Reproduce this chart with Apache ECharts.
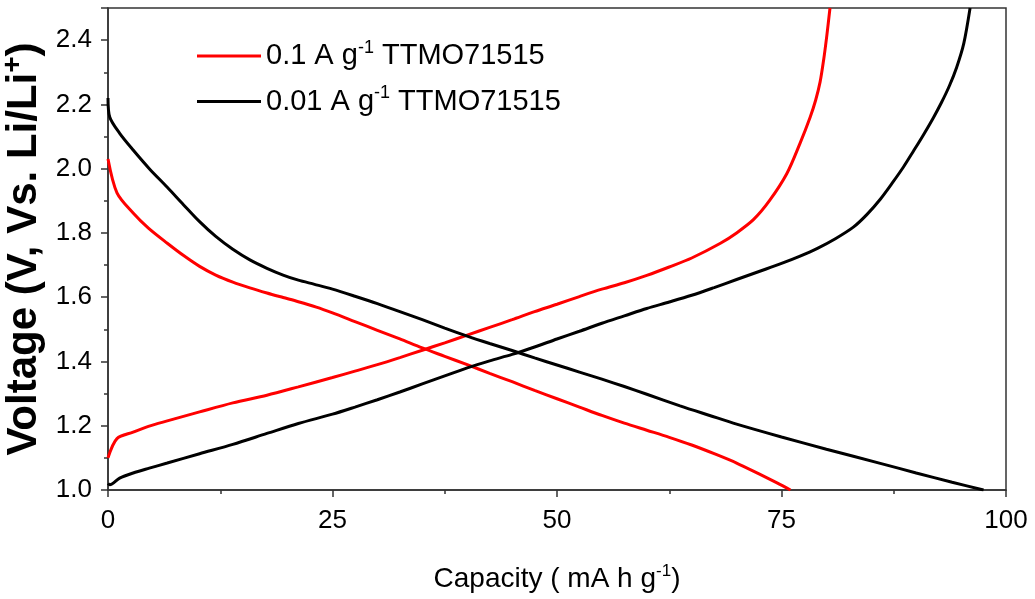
<!DOCTYPE html>
<html><head><meta charset="utf-8">
<script src="https://cdn.jsdelivr.net/npm/echarts@6/dist/echarts.min.js"></script>
<style>html,body{margin:0;padding:0;background:#fff}#c{width:1035px;height:599px}</style>
</head><body><div id="c"></div>
<script>
// Series names (legend)
const seriesNames = ['0.1 A g-1 TTMO71515', '0.01 A g-1 TTMO71515'];
// Red (0.1 A g-1) discharge: [capacity, voltage]
const redDischarge = [[0,2.03],[1,1.925],[2.8,1.862],[4.5,1.815],[6.6,1.768],[8.5,1.728],[10.2,1.696],[12,1.669],[13.9,1.647],[15.8,1.629],[17.7,1.613],[19.5,1.599],[21.2,1.586],[23.2,1.569],[25,1.551],[27.5,1.524],[30,1.497],[32.5,1.47],[35,1.442],[37.5,1.416],[40,1.39],[42.5,1.363],[45,1.337],[47.5,1.31],[50,1.284],[52.5,1.258],[55,1.232],[57.5,1.208],[60,1.186],[62.5,1.164],[65,1.14],[67.5,1.113],[70,1.084],[72.5,1.05],[74.5,1.022],[76,1.0]];
// Red (0.1 A g-1) charge
const redCharge = [[0,1.10],[1,1.16],[2.8,1.18],[4.5,1.198],[6.6,1.215],[10.2,1.243],[13.9,1.271],[17.7,1.295],[21.2,1.321],[25,1.35],[27.5,1.37],[30,1.39],[32.5,1.412],[35,1.435],[37.5,1.458],[40,1.482],[42.5,1.506],[45,1.53],[47.5,1.555],[50,1.578],[52.5,1.602],[55,1.625],[57.5,1.645],[60,1.668],[62.5,1.694],[65,1.722],[68.15,1.767],[70,1.80],[71.9,1.842],[73.7,1.902],[75.6,1.985],[77.05,2.078],[78.2,2.161],[78.8,2.213],[79.3,2.27],[79.7,2.34],[80.05,2.415],[80.4,2.5]];
// Black (0.01 A g-1) discharge
const blackDischarge = [[0,2.22],[0.2,2.16],[1.3,2.11],[2.8,2.058],[4.6,2.0],[6.6,1.942],[8.4,1.888],[10.2,1.835],[12,1.789],[13.9,1.749],[15.8,1.716],[17.7,1.69],[19.5,1.669],[21.2,1.653],[23,1.64],[25,1.625],[27.5,1.603],[30,1.58],[32.5,1.555],[35,1.53],[37.5,1.504],[40,1.479],[42.5,1.456],[45,1.434],[47.5,1.411],[50,1.389],[52.5,1.367],[55,1.345],[57.5,1.322],[60,1.298],[63.7,1.262],[67,1.232],[70,1.205],[75,1.165],[80,1.127],[86,1.083],[90,1.053],[94,1.024],[97.5,1.0]];
// Black (0.01 A g-1) charge
const blackCharge = [[0,1.02],[0.2,1.016],[1.3,1.037],[2.8,1.053],[4.6,1.068],[6.6,1.084],[10.2,1.113],[13.9,1.142],[17.7,1.176],[21.2,1.207],[25,1.236],[27.5,1.258],[30,1.281],[32.5,1.305],[35,1.33],[37.5,1.355],[40,1.38],[42.5,1.402],[45,1.422],[47.5,1.445],[50,1.47],[52.5,1.494],[55,1.519],[57.5,1.542],[60,1.565],[62.5,1.585],[65,1.606],[67.5,1.63],[70,1.655],[72.5,1.68],[75,1.705],[77,1.727],[79,1.752],[81,1.782],[83,1.818],[84.5,1.857],[86,1.905],[87.4,1.958],[88.6,2.006],[89.7,2.055],[90.8,2.105],[91.9,2.158],[92.8,2.205],[93.7,2.258],[94.5,2.315],[95.3,2.39],[96,2.5]];

const chart = echarts.init(document.getElementById('c'));
const font = 'Liberation Sans, Arial, sans-serif';
function legendFmt(name){
  const parts = name.split(' g-1 ');
  return parts[0] + ' g{sup|-1} ' + parts[1];
}
const lineBase = {type:'line', showSymbol:false, symbol:'none', smooth:0.3, animation:false};
chart.setOption({
  animation:false,
  grid:{left:108, right:29, top:8, bottom:109, containLabel:false, outerBoundsMode:'none',
    show:true, borderColor:'#333', borderWidth:1.5},
  legend:{
    orient:'vertical', left:192, top:34, itemGap:14, itemWidth:64, itemHeight:3,
    icon:'rect',
    data: seriesNames,
    formatter: legendFmt,
    textStyle:{fontFamily:font, fontSize:29, color:'#000',
      rich:{sup:{fontFamily:font, fontSize:18, color:'#000', padding:[0,0,16,0]}}}
  },
  xAxis:{
    type:'value', min:0, max:100, interval:25,
    name:'Capacity ( mA h g{sup|-1})', nameLocation:'middle', nameGap:73,
    nameTextStyle:{fontFamily:font, fontSize:28, color:'#000',
      rich:{sup:{fontFamily:font, fontSize:17, color:'#000', padding:[0,0,16,0]}}},
    axisLine:{lineStyle:{color:'#333', width:1.5}},
    axisTick:{show:true, inside:false, length:7, lineStyle:{color:'#333', width:1.5}},
    minorTick:{show:true, splitNumber:2, length:4, lineStyle:{color:'#333', width:1.5}},
    axisLabel:{fontFamily:font, fontSize:26, color:'#000', margin:18},
    splitLine:{show:false}
  },
  yAxis:{
    type:'value', min:1.0, max:2.5, interval:0.2,
    name:'Voltage (V, Vs. Li/Li{sup|+})', nameLocation:'middle', nameGap:36,
    nameTextStyle:{fontFamily:font, fontSize:42, fontWeight:'bold', color:'#000',
      rich:{sup:{fontFamily:font, fontSize:28, fontWeight:'bold', color:'#000', padding:[0,0,22,0]}}},
    axisLine:{lineStyle:{color:'#333', width:1.5}},
    axisTick:{show:true, inside:false, length:7, lineStyle:{color:'#333', width:1.5}},
    minorTick:{show:true, splitNumber:2, length:4, lineStyle:{color:'#333', width:1.5}},
    axisLabel:{fontFamily:font, fontSize:26, color:'#000', margin:16, showMaxLabel:false,
      formatter: v => v.toFixed(1)},
    splitLine:{show:false}
  },
  series:[
    Object.assign({}, lineBase, {name:seriesNames[0], data:redDischarge, itemStyle:{color:'#ff0000'}, lineStyle:{color:'#ff0000', width:3}}),
    Object.assign({}, lineBase, {name:seriesNames[0], data:redCharge, itemStyle:{color:'#ff0000'}, lineStyle:{color:'#ff0000', width:3}}),
    Object.assign({}, lineBase, {name:seriesNames[1], data:blackDischarge, itemStyle:{color:'#000'}, lineStyle:{color:'#000', width:3}}),
    Object.assign({}, lineBase, {name:seriesNames[1], data:blackCharge, itemStyle:{color:'#000'}, lineStyle:{color:'#000', width:3}})
  ]
});
</script></body></html>
